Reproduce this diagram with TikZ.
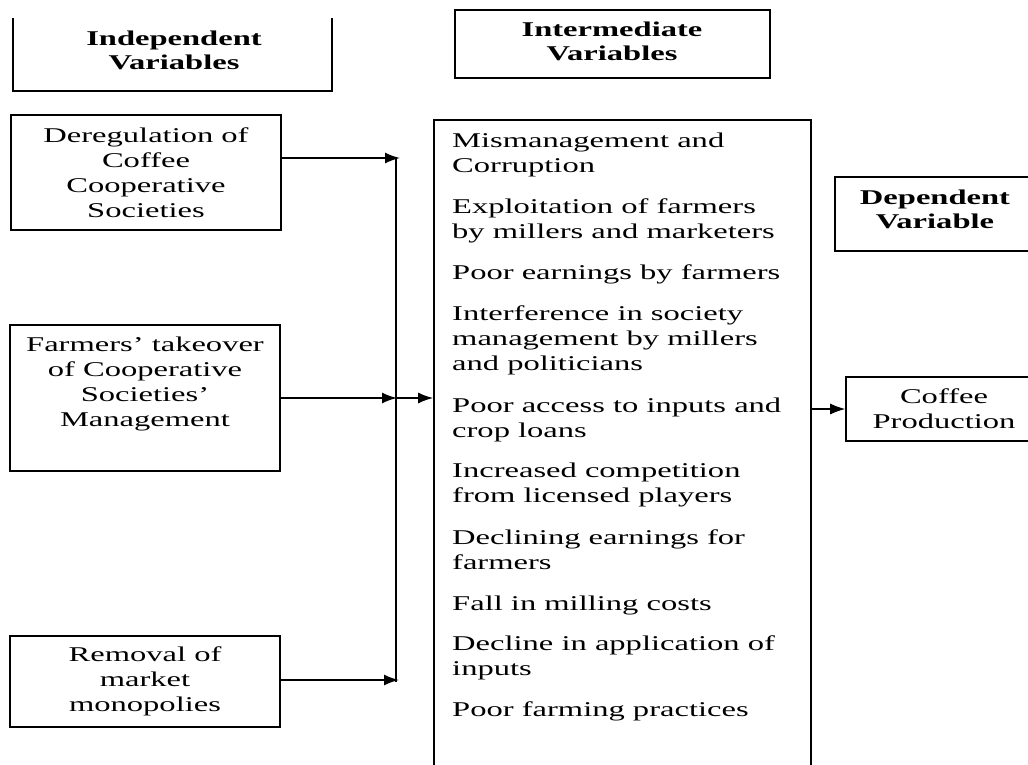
\documentclass[tikz,border=0pt]{standalone}
\usepackage{fontspec}
\setmainfont[FakeStretch=1.55]{Liberation Serif}
\usetikzlibrary{arrows.meta}
\tikzset{
  frame/.style={draw, line width=1.6pt, inner sep=0pt},
  txt/.style={inner sep=0pt, align=center, font=\fontsize{21}{25}\selectfont},
  hdr/.style={inner sep=0pt, align=center, font=\fontsize{21}{24}\selectfont\bfseries},
  item/.style={anchor=north west, inner sep=0pt, align=left, font=\fontsize{21}{25}\selectfont},
  arr/.style={line width=1.6pt, -{Latex[length=15pt,width=11pt]}},
}
\begin{document}
\begin{tikzpicture}[x=1pt,y=-1pt]
\useasboundingbox (0,0) rectangle (1028,764);
% headers
\node[inner sep=0pt, minimum width=319pt, minimum height=73pt] (indep) at (172.5,54.5) {};
\draw[line width=1.6pt] (indep.north west) -- (indep.south west) -- (indep.south east) -- (indep.north east);
\node[hdr] (indeptxt) at (174,50) {Independent\\Variables};
\node[frame, minimum width=315pt, minimum height=68pt] (inter) at (612.5,44) {};
\node[hdr] (intertxt) at (612,41) {Intermediate\\Variables};
\node[frame, minimum width=200pt, minimum height=74pt] (dep) at (935,214) {};
\node[hdr] (deptxt) at (935,209) {Dependent\\Variable};
% independent variables
\node[frame, txt, minimum width=270pt, minimum height=115pt] (dereg) at (146,172.5) {Deregulation of\\Coffee\\Cooperative\\Societies};
\node[frame, minimum width=270pt, minimum height=146pt] (farm) at (145,398) {};
\node[txt] (farmtxt) at (145,383.5) {Farmers’ takeover\\of Cooperative\\Societies’\\Management};
\node[frame, txt, minimum width=270pt, minimum height=91pt] (remov) at (145,681.5) {Removal of\\market\\monopolies};
% intermediate box
\node[frame, minimum width=377pt, minimum height=650pt] (mid) at (622.5,445) {};
\node[item] (i1) at (452,133) {Mismanagement and\\Corruption};
\node[item] (i2) at (452,199) {Exploitation of farmers\\by millers and marketers};
\node[item] (i3) at (452,265) {Poor earnings by farmers};
\node[item] (i4) at (452,306) {Interference in society\\management by millers\\and politicians};
\node[item] (i5) at (452,398) {Poor access to inputs and\\crop loans};
\node[item] (i6) at (452,463) {Increased competition\\from licensed players};
\node[item] (i7) at (452,530) {Declining earnings for\\farmers};
\node[item] (i8) at (452,596) {Fall in milling costs};
\node[item] (i9) at (452,636) {Decline in application of\\inputs};
\node[item] (i10) at (452,702) {Poor farming practices};
% dependent
\node[frame, txt, minimum width=196pt, minimum height=64pt] (coffee) at (944,409) {Coffee\\Production};
% connectors
\coordinate (jt) at (396,158);
\coordinate (jb) at (396,682);
\coordinate (a1) at (400,158);
\coordinate (a2) at (397,398);
\coordinate (a3) at (399,680);
\draw[line width=1.6pt] (jt) -- (jb);
\draw[arr] (dereg.east |- a1) -- (a1);
\draw[arr] (farm.east) -- (a2);
\draw[arr] (a2) -- (mid.west |- a2);
\draw[arr, line width=1.2pt] (mid.east |- coffee.west) -- (coffee.west);
\draw[arr] (remov.east |- a3) -- (a3);
\end{tikzpicture}
\end{document}
